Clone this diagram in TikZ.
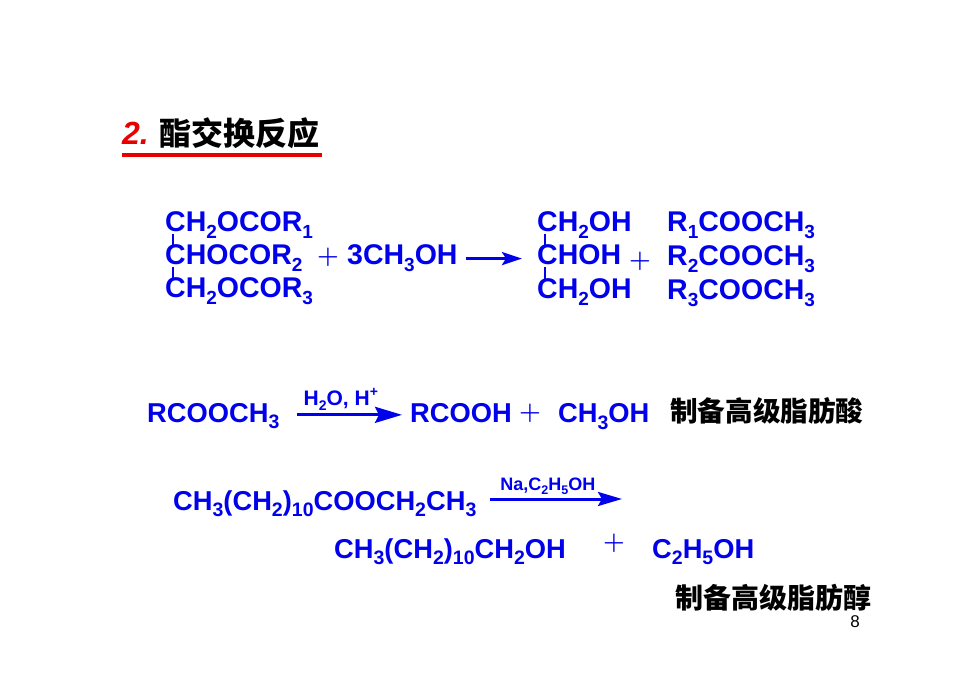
\documentclass[tikz,border=0pt]{standalone}
\usepackage{fontspec}
\usepackage{tikz}
\usetikzlibrary{arrows.meta}
\setmainfont{Liberation Sans}
\newfontfamily\cjk{Noto Sans CJK SC}
\definecolor{chemblue}{RGB}{0,0,235}
\definecolor{titlered}{RGB}{232,0,0}
\newcommand\subsz{19}
\newcommand\dn[1]{\raisebox{-0.24em}{\fontsize{\subsz}{\subsz}\selectfont #1}}
\newcommand\up[1]{\raisebox{0.45em}{\fontsize{\subsz}{\subsz}\selectfont #1}}

\begin{document}
\begin{tikzpicture}[x=1pt,y=-1pt,
	chem/.style={text=chemblue,inner sep=0pt,anchor=base west,
		font=\renewcommand\subsz{19}\bfseries\fontsize{28.5}{28.5}\selectfont},
	chems/.style={chem,font=\renewcommand\subsz{19.5}\bfseries\fontsize{27.3}{27.3}\selectfont},
	lab/.style={text=chemblue,inner sep=0pt,
		font=\renewcommand\subsz{14}\bfseries\fontsize{21}{21}\selectfont},
	plus/.style={text=chemblue,inner sep=0pt,font=\fontsize{#1}{#1}\selectfont\boldmath},
	plus/.default=25,
	cn/.style={inner sep=0pt,anchor=west,font=\cjk\bfseries\fontsize{27.6}{28}\selectfont},
	bond/.style={chemblue,line width=2pt},
	rx/.style 2 args={chemblue,line width=3pt,-{Stealth[length=#1,width=#2,inset=4pt]}}]
	\useasboundingbox (0,0) rectangle (980,692);

	% title
	\node[inner sep=0pt,anchor=base west,text=titlered,
		font=\bfseries\itshape\fontsize{32}{32}\selectfont] (num) at (122,145) {2.};
	\node[inner sep=0pt,anchor=west,font=\cjk\bfseries\fontsize{32}{32}\selectfont]
		(title) at (159,133.5) {酯交换反应};
	\draw[titlered,line width=3.5pt] (122,155) -- (322,155);

	% glyceride + methanol
	\foreach \n/\txt/\y in {1/{CH\dn{2}OCOR\dn{1}}/232, 2/{CHOCOR\dn{2}}/265, 3/{CH\dn{2}OCOR\dn{3}}/298}
		\node[chem] (a\n) at (165,\y) {\txt};
	\foreach \n/\txt/\y in {1/{CH\dn{2}OH}/232, 2/{CHOH}/265, 3/{CH\dn{2}OH}/299}
		\node[chem] (b\n) at (537,\y) {\txt};
	\foreach \n/\y in {1/232, 2/266, 3/300}
		\node[chem] (c\n) at (667,\y) {R\dn{\n}COOCH\dn{3}};

	\foreach \c in {a,b}
		\foreach \i/\j in {1/2,2/3}
			\draw[bond] ([xshift=7.5pt,yshift=-2pt]\c\i.base west) -- ([xshift=7.5pt,yshift=-2pt]\c\j.north west);

	\node[plus] (p1) at (328,257) {$+$};
	\node[chem] (meoh) at (347,265) {3CH\dn{3}OH};
	\node[plus] (p2) at (640,261) {$+$};
	\draw[rx={20pt}{13pt}] ([xshift=8pt]meoh.east) -- ([xshift=-15pt]b2.west |- meoh.east);

	% hydrolysis
	\node[chems] (d1) at (147,422) {RCOOCH\dn{3}};
	\node[chems] (d2) at (410,422) {RCOOH};
	\node[plus=29] (p3) at (530,413) {$+$};
	\node[chems] (d3) at (558,423) {CH\dn{3}OH};
	\node[cn] (acid) at (670,410.5) {制备高级脂肪酸};
	\draw[rx={27pt}{16pt}] ([xshift=17pt,yshift=1pt]d1.east) -- ([xshift=-8pt,yshift=1pt]d2.west |- d1.east)
		node[lab,pos=0.42,above=2.5pt] (c2) {H\dn{2}O, H\up{+}};

	% reduction
	\node[chems] (e1) at (173,510) {CH\dn{3}(CH\dn{2})\dn{10}COOCH\dn{2}CH\dn{3}};
	\coordinate (r3) at (622,499);
	\draw[rx={24pt}{14pt}] ([xshift=13pt]e1.east |- r3) -- (r3)
		node[lab,pos=0.44,above=3pt,font=\renewcommand\subsz{12.5}\bfseries\fontsize{18}{18}\selectfont] (c3) {Na,C\dn{2}H\dn{5}OH};
	\node[chems] (e2) at (334,558) {CH\dn{3}(CH\dn{2})\dn{10}CH\dn{2}OH};
	\node[plus=27] (p4) at (614,543) {$+$};
	\node[chems] (e3) at (652,558) {C\dn{2}H\dn{5}OH};
	\node[cn,font=\cjk\bfseries\fontsize{28}{28}\selectfont] (alc) at (675,597.5) {制备高级脂肪醇};

	\node[inner sep=0pt,font=\fontsize{17}{17}\selectfont] (page) at (855,622) {8};
\end{tikzpicture}
\end{document}
